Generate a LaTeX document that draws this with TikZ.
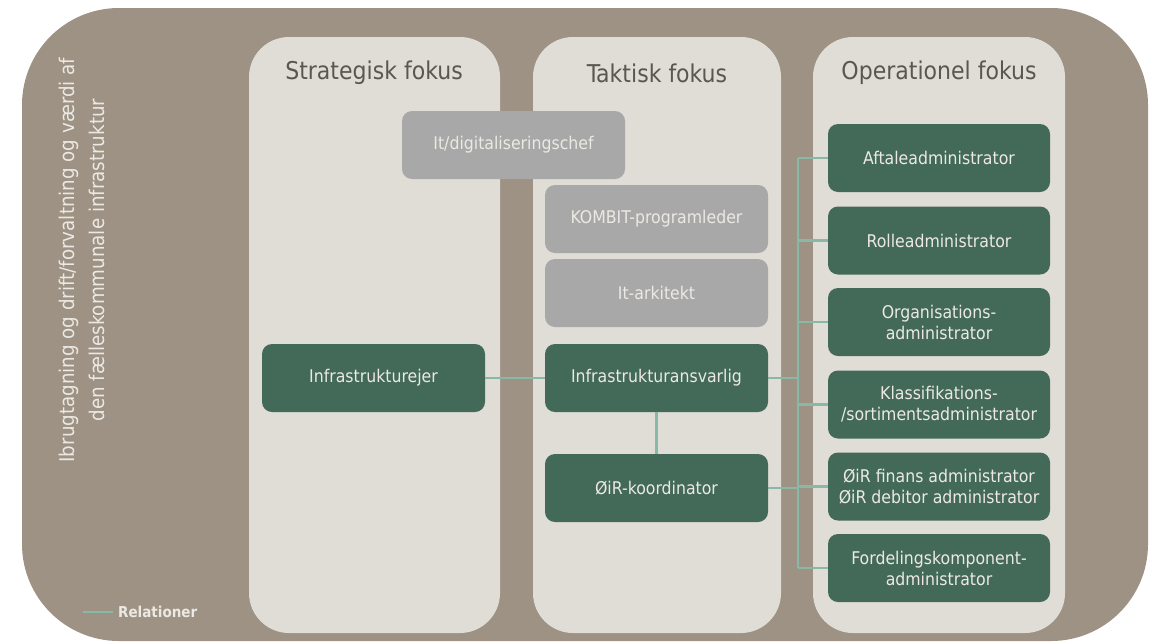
\documentclass[tikz,border=0pt]{standalone}
\usepackage{fontspec}
\setmainfont{DejaVu Sans Condensed}
\definecolor{outerbrown}{HTML}{9D9283}
\definecolor{panelbg}{HTML}{E0DCD6}
\definecolor{boxgreen}{HTML}{436958}
\definecolor{boxgray}{HTML}{A8A8A8}
\definecolor{headtext}{HTML}{5B5651}
\definecolor{relline}{HTML}{88B9A6}
\definecolor{lighttext}{HTML}{ECE9E4}
\begin{document}
\begin{tikzpicture}[x=1pt,y=-1pt,
  panel/.style={fill=panelbg, rounded corners=40pt},
  header/.style={text=headtext, font=\fontsize{24.5}{28}\selectfont},
  rolebox/.style={rectangle, rounded corners=10pt, minimum width=223pt, minimum height=68pt,
     inner sep=2pt, align=center, text=lighttext, font=\fontsize{17.5}{21}\selectfont},
  greenbox/.style={rolebox, fill=boxgreen},
  graybox/.style={rolebox, fill=boxgray},
  rel/.style={draw=relline, line width=2.5pt}]
\useasboundingbox (0,0) rectangle (1155,643);
\fill[white] (0,0) rectangle (1155,643);
% outer frame
\fill[outerbrown, rounded corners=97pt] (22,8) rectangle (1148,641);
% panels
\fill[panel] (249,37) rectangle (500,633);
\fill[panel] (533,37) rectangle (781,633);
\fill[panel] (813,37) rectangle (1065,633);
% headers
\node[header] (hs) at (374,73) {Strategisk fokus};
\node[header] (ht) at (657,73) {Taktisk fokus};
\node[header] (ho) at (939,73) {Operationel fokus};
% side text
\node[rotate=90, align=center, text=lighttext, font=\fontsize{20.3}{30}\selectfont] (side) at (82,260)
  {Ibrugtagning og drift/forvaltning og værdi af\\den fælleskommunale infrastruktur};
% legend
\coordinate (lga) at (83,612);
\coordinate (lgb) at (113,612);
\draw[rel] (lga) -- (lgb);
\node[anchor=west, text=lighttext, font=\bfseries\fontsize{15}{17}\selectfont, inner sep=2pt] (lgt) at (116,612) {Relationer};
% connectors
\coordinate (bt) at (798,158);
\coordinate (bb) at (798,568);
% boxes
\node[graybox] (itchef) at (513.5,145) {It/digitaliseringschef};
\node[graybox] (kombit) at (656.5,219) {KOMBIT-programleder};
\node[graybox] (itark) at (656.5,293) {It-arkitekt};
\node[greenbox] (ansv) at (656.5,378) {Infrastrukturansvarlig};
\node[greenbox] (oir) at (656.5,488) {ØiR-koordinator};
\node[greenbox] (ejer) at (373.5,378) {Infrastrukturejer};
\node[greenbox, minimum width=222pt] (op1) at (939,158) {Aftaleadministrator};
\node[greenbox, minimum width=222pt] (op2) at (939,240.5) {Rolleadministrator};
\node[greenbox, minimum width=222pt] (op3) at (939,322) {Organisations-\\administrator};
\node[greenbox, minimum width=222pt] (op4) at (939,404.5) {Klassifikations-\\/sortimentsadministrator};
\node[greenbox, minimum width=222pt] (op5) at (939,486.5) {ØiR finans administrator\\ØiR debitor administrator};
\node[greenbox, minimum width=222pt] (op6) at (939,568) {Fordelingskomponent-\\administrator};
\draw[rel] (ejer.east) -- (ansv.west);
\draw[rel] (ansv.south) -- (oir.north);
\draw[rel] (bt) -- (bb);
\foreach \b in {op1,op2,op3,op4,op5,op6} { \draw[rel] (\b.west) -- (\b.west -| bt); }
\draw[rel] (ansv.east) -- (ansv.east -| bt);
\draw[rel] (oir.east) -- (oir.east -| bt);
\end{tikzpicture}
\end{document}
